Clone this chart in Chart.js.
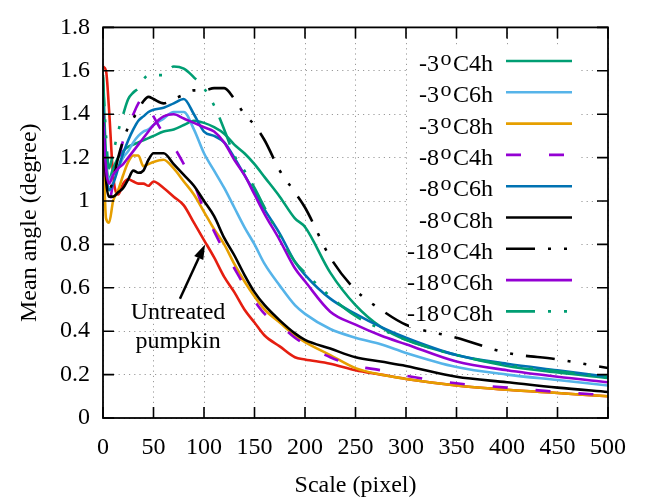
<!DOCTYPE html>
<html><head><meta charset="utf-8">
<style>html,body{margin:0;padding:0;background:#fff}</style>
<script src="https://cdn.jsdelivr.net/npm/chart.js@4.4.0/dist/chart.umd.min.js"></script>
</head><body>
<canvas id="c" width="649" height="498"></canvas>
<script>
// ---- data ----
const xs = [0,3,6,10,15,20,25,30,35,40,45,50,60,70,80,90,100,110,120,130,140,150,160,175,190,200,225,250,275,300,350,400,450,500];
const untreated = [1.62,1.60,1.42,1.12,1.03,1.08,1.10,1.09,1.08,1.08,1.07,1.09,1.06,1.02,0.98,0.90,0.82,0.74,0.65,0.58,0.50,0.44,0.38,0.33,0.28,0.27,0.25,0.22,0.20,0.18,0.15,0.13,0.115,0.10];
const m3c4h = [1.58,1.20,1.10,1.15,1.20,1.23,1.25,1.26,1.27,1.28,1.29,1.30,1.32,1.33,1.35,1.37,1.36,1.34,1.31,1.26,1.22,1.17,1.11,1.02,0.92,0.88,0.67,0.52,0.42,0.36,0.29,0.24,0.21,0.185];
const m3c6h = [1.30,1.15,1.10,1.12,1.15,1.20,1.23,1.27,1.30,1.32,1.33,1.35,1.38,1.41,1.41,1.33,1.22,1.14,1.06,0.97,0.88,0.80,0.71,0.61,0.52,0.48,0.41,0.37,0.34,0.30,0.235,0.20,0.175,0.15];
const m3c8h = [1.30,0.92,0.90,1.00,1.05,1.12,1.18,1.21,1.21,1.16,1.17,1.18,1.19,1.15,1.09,1.03,0.95,0.87,0.80,0.71,0.63,0.56,0.50,0.44,0.38,0.35,0.29,0.23,0.20,0.18,0.15,0.13,0.115,0.10];
const m8c4h = [1.38,1.10,1.00,1.08,1.18,1.28,1.35,1.40,1.45,1.48,1.44,1.39,1.31,1.25,1.17,1.08,0.96,0.86,0.77,0.69,0.61,0.54,0.48,0.43,0.37,0.34,0.28,0.24,0.22,0.195,0.16,0.14,0.12,0.105];
const m8c6h = [1.45,1.15,1.05,1.08,1.15,1.22,1.28,1.33,1.37,1.39,1.41,1.42,1.43,1.45,1.47,1.40,1.32,1.30,1.27,1.20,1.12,1.04,0.96,0.85,0.72,0.66,0.55,0.48,0.42,0.37,0.29,0.25,0.22,0.19];
const m8c8h = [1.40,1.10,1.02,1.02,1.04,1.06,1.10,1.14,1.13,1.14,1.19,1.22,1.22,1.17,1.12,1.07,1.00,0.93,0.83,0.75,0.66,0.58,0.52,0.45,0.39,0.36,0.32,0.28,0.26,0.24,0.19,0.165,0.14,0.12];
const m18c4h = [1.30,1.12,1.05,1.10,1.20,1.28,1.34,1.38,1.42,1.46,1.48,1.47,1.45,1.47,1.49,1.51,1.51,1.52,1.52,1.47,1.40,1.35,1.28,1.14,1.04,0.97,0.74,0.59,0.50,0.43,0.37,0.30,0.27,0.23];
const m18c6h = [1.40,1.15,1.08,1.12,1.15,1.17,1.20,1.23,1.26,1.29,1.32,1.35,1.39,1.40,1.38,1.36,1.34,1.32,1.27,1.19,1.12,1.03,0.94,0.82,0.69,0.63,0.49,0.43,0.38,0.34,0.26,0.22,0.19,0.165];
const m18c8h = [1.57,1.30,1.15,1.22,1.32,1.40,1.47,1.50,1.52,1.56,1.58,1.58,1.58,1.62,1.61,1.57,1.52,1.44,1.33,1.21,1.14,1.06,0.97,0.84,0.72,0.67,0.56,0.47,0.41,0.36,0.29,0.245,0.215,0.19];
const xTickLabels = ['0','50','100','150','200','250','300','350','400','450','500'];
const yTickLabels = ['0','0.2','0.4','0.6','0.8','1','1.2','1.4','1.6','1.8'];
const legendLabels = ['-3ºC4h','-3ºC6h','-3ºC8h','-8ºC4h','-8ºC6h','-8ºC8h','-18ºC4h','-18ºC6h','-18ºC8h'];
const annotLines = ['Untreated','pumpkin'];

// ---- styles ----
const FONT = '"Liberation Serif", "Times New Roman", serif';
const styles = {
  '-3ºC4h':  {color:'#009e73', dash:[]},
  '-3ºC6h':  {color:'#56b4e9', dash:[]},
  '-3ºC8h':  {color:'#e69f00', dash:[]},
  '-8ºC4h':  {color:'#9400d3', dash:[15,28]},
  '-8ºC6h':  {color:'#0072b2', dash:[]},
  '-8ºC8h':  {color:'#000000', dash:[]},
  '-18ºC4h': {color:'#000000', dash:[29,13,3,13,3,13]},
  '-18ºC6h': {color:'#9400d3', dash:[]},
  '-18ºC8h': {color:'#009e73', dash:[29,13,3,13,3,13]},
  'Untreated pumpkin': {color:'#e51e10', dash:[]}
};
const seriesMap = {
  '-3ºC4h': m3c4h, '-3ºC6h': m3c6h, '-3ºC8h': m3c8h,
  '-8ºC4h': m8c4h, '-8ºC6h': m8c6h, '-8ºC8h': m8c8h,
  '-18ºC4h': m18c4h, '-18ºC6h': m18c6h, '-18ºC8h': m18c8h,
  'Untreated pumpkin': untreated
};
// gnuplot draw order: later on top; Chart.js draws index 0 last (on top)
const drawOrder = ['Untreated pumpkin'].concat(legendLabels);
const datasets = drawOrder.slice().reverse().map(name => ({
  label: name,
  data: xs.map((x, i) => ({x: x, y: seriesMap[name][i]})),
  borderColor: styles[name].color,
  borderDash: styles[name].dash,
  borderWidth: 2.6,
  pointRadius: 0,
  cubicInterpolationMode: 'monotone',
  fill: false
}));

const overlay = {
  id: 'overlay',
  afterDatasetsDraw(chart) {
    const ctx = chart.ctx;
    const xS = chart.scales.x, yS = chart.scales.y;
    // opaque key
    ctx.save();
    ctx.fillStyle = '#fff';
    ctx.fillRect(409, 45, 171, 282);
    const rightText = 493, lx1 = 506, lx2 = 572, y0 = 61, dy = 31.3, gap = 1.5;
    legendLabels.forEach((lab, i) => {
      const y = y0 + i * dy;
      const parts = lab.split('º');
      ctx.font = '24px ' + FONT;
      const w1 = ctx.measureText(parts[0]).width;
      const w3 = ctx.measureText(parts[1]).width;
      ctx.font = '22px ' + FONT;
      const w2 = ctx.measureText('o').width;
      let x = rightText - (w1 + w2 + w3 + 2 * gap);
      ctx.fillStyle = '#000';
      ctx.textAlign = 'left';
      ctx.textBaseline = 'alphabetic';
      ctx.font = '24px ' + FONT;
      ctx.fillText(parts[0], x, y + 10);
      ctx.font = '22px ' + FONT;
      ctx.fillText('o', x + w1 + gap, y + 4);
      ctx.font = '24px ' + FONT;
      ctx.fillText(parts[1], x + w1 + w2 + 2 * gap, y + 10);
      const st = styles[lab];
      ctx.strokeStyle = st.color;
      ctx.lineWidth = 2.6;
      ctx.setLineDash(st.dash);
      ctx.beginPath();
      ctx.moveTo(lx1, y);
      ctx.lineTo(lx2, y);
      ctx.stroke();
      ctx.setLineDash([]);
    });
    // annotation
    ctx.fillStyle = '#000';
    ctx.font = '24px ' + FONT;
    ctx.textAlign = 'center';
    ctx.textBaseline = 'alphabetic';
    ctx.fillText(annotLines[0], xS.getPixelForValue(74.3), yS.getPixelForValue(0.455));
    ctx.fillText(annotLines[1], xS.getPixelForValue(74.3), yS.getPixelForValue(0.323));
    const ax1 = xS.getPixelForValue(76.2), ay1 = yS.getPixelForValue(0.55);
    const ax2 = xS.getPixelForValue(101), ay2 = yS.getPixelForValue(0.80);
    const ang = Math.atan2(ay2 - ay1, ax2 - ax1);
    const hl = 15, hw = 5;
    const bx = ax2 - hl * Math.cos(ang), by = ay2 - hl * Math.sin(ang);
    ctx.strokeStyle = '#000';
    ctx.lineWidth = 2.5;
    ctx.beginPath();
    ctx.moveTo(ax1, ay1);
    ctx.lineTo(bx, by);
    ctx.stroke();
    ctx.beginPath();
    ctx.moveTo(ax2, ay2);
    ctx.lineTo(bx + hw * Math.sin(ang), by - hw * Math.cos(ang));
    ctx.lineTo(bx - hw * Math.sin(ang), by + hw * Math.cos(ang));
    ctx.closePath();
    ctx.fill();
    ctx.restore();
  },
  afterDraw(chart) {
    const ctx = chart.ctx, a = chart.chartArea;
    const xS = chart.scales.x, yS = chart.scales.y;
    ctx.save();
    ctx.strokeStyle = '#000';
    ctx.lineWidth = 1.6;
    ctx.setLineDash([]);
    const tl = 11;
    xS.ticks.forEach(t => {
      const px = xS.getPixelForValue(t.value);
      ctx.beginPath();
      ctx.moveTo(px, a.bottom); ctx.lineTo(px, a.bottom - tl);
      ctx.moveTo(px, a.top); ctx.lineTo(px, a.top + tl);
      ctx.stroke();
    });
    yS.ticks.forEach(t => {
      const py = yS.getPixelForValue(t.value);
      ctx.beginPath();
      ctx.moveTo(a.left, py); ctx.lineTo(a.left + tl, py);
      ctx.moveTo(a.right, py); ctx.lineTo(a.right - tl, py);
      ctx.stroke();
    });
    ctx.lineWidth = 1.8;
    ctx.strokeRect(a.left, a.top, a.right - a.left, a.bottom - a.top);
    ctx.restore();
  }
};

new Chart(document.getElementById('c'), {
  type: 'line',
  data: {datasets: datasets},
  options: {
    responsive: false,
    animation: false,
    devicePixelRatio: 1,
    layout: {padding: {left: 0, right: 41, top: 22, bottom: 0}},
    plugins: {legend: {display: false}, tooltip: {enabled: false}},
    scales: {
      x: {
        type: 'linear', min: 0, max: 500,
        ticks: {stepSize: 50, autoSkip: false, maxRotation: 0, color: '#000', padding: 15,
                font: {family: FONT, size: 24}, callback: (v, i) => xTickLabels[i]},
        grid: {color: '#9a9a9a', lineWidth: 1, drawTicks: false},
        border: {display: false, dash: [1.2, 4]},
        title: {display: true, text: 'Scale (pixel)', color: '#000', padding: 0,
                font: {family: FONT, size: 24, lineHeight: 1}},
        afterFit(s) { s.height = 80; }
      },
      y: {
        type: 'linear', min: 0, max: 1.8,
        ticks: {stepSize: 0.2, autoSkip: false, color: '#000', padding: 13,
                font: {family: FONT, size: 24}, callback: (v, i) => yTickLabels[i]},
        grid: {color: '#9a9a9a', lineWidth: 1, drawTicks: false},
        border: {display: false, dash: [1.2, 4]},
        title: {display: true, text: 'Mean angle (degree)', color: '#000', padding: {top: 18, bottom: 18},
                font: {family: FONT, size: 24, lineHeight: 1}},
        afterFit(s) { s.width = 103; }
      }
    }
  },
  plugins: [overlay]
});
</script>
</body></html>
